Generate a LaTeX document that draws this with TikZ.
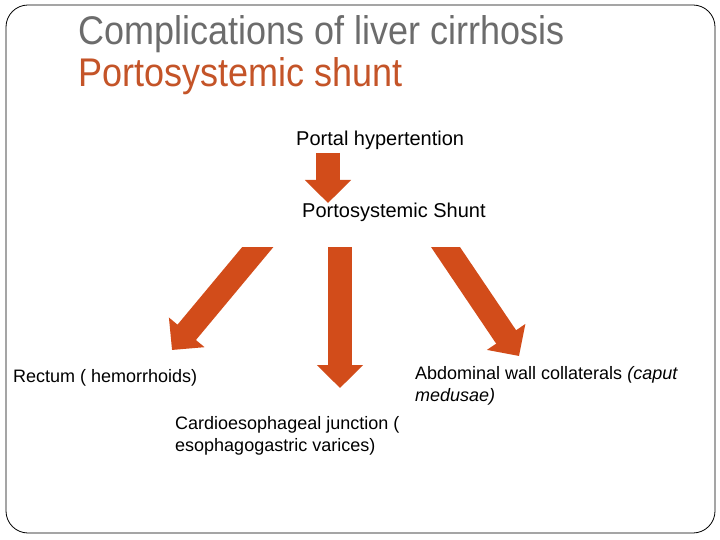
\documentclass[tikz,border=0pt]{standalone}
\usepackage{fontspec}
\setmainfont{Liberation Sans}
\usepackage{xcolor}
\usetikzlibrary{arrows.meta,positioning}

\definecolor{shuntorange}{RGB}{210,76,26}
\definecolor{titleorange}{RGB}{196,84,40}
\definecolor{titlegray}{RGB}{108,108,108}

\begin{document}
\begin{tikzpicture}[
        x=1pt, y=-1pt,
        fatarrow/.style={shuntorange, line width=24pt,
                         -{Triangle[width=45pt,length=23pt]}},
        heading/.style={anchor=base west, inner sep=0pt, xscale=0.9,
                        font=\fontsize{40}{44}\selectfont},
        label/.style={anchor=base west, inner sep=0pt, align=left,
                      font=\fontsize{18}{22}\selectfont},
        step label/.style={anchor=base west, inner sep=0pt,
                           font=\fontsize{20}{24}\selectfont}
    ]
        \useasboundingbox (0,0) rectangle (720,540);
        \draw[rounded corners=22pt, line width=0.8pt] (6,5) rectangle (715,533);

        \node[heading, titlegray, transform shape] (title) at (78,45) {Complications of liver cirrhosis};
        \node[heading, titleorange, transform shape] (subtitle) at (78,87) {Portosystemic shunt};

        \node[step label] (portal) at (296,146) {Portal hypertention};
        \node[step label] (shunt)  at (302,218) {Portosystemic Shunt};

        \node[label] (rectum) at (13,382) {Rectum ( hemorrhoids)};
        \node[label] (cardio) at (175,451) {Cardioesophageal junction (\\esophagogastric varices)};
        \node[label] (abdwall) at (415,401) {Abdominal wall collaterals \textit{(caput}\\\textit{medusae)}};

        \coordinate (ph out) at (328,153);
        \coordinate (ph in)  at (328,203);
        \coordinate (left out)  at (272,230);
        \coordinate (left in)   at (172,350);
        \coordinate (mid out)   at (340,247);
        \coordinate (mid in)    at (340,388);
        \coordinate (right out) at (434,230);
        \coordinate (right in)  at (519,356);

        \draw[fatarrow] (ph out) -- (ph in);
        \begin{scope}
            \clip (0,247) rectangle (720,540);
            \draw[fatarrow] (left out) -- (left in);
            \draw[fatarrow] (mid out) -- (mid in);
            \draw[fatarrow] (right out) -- (right in);
        \end{scope}
    \end{tikzpicture}
\end{document}
